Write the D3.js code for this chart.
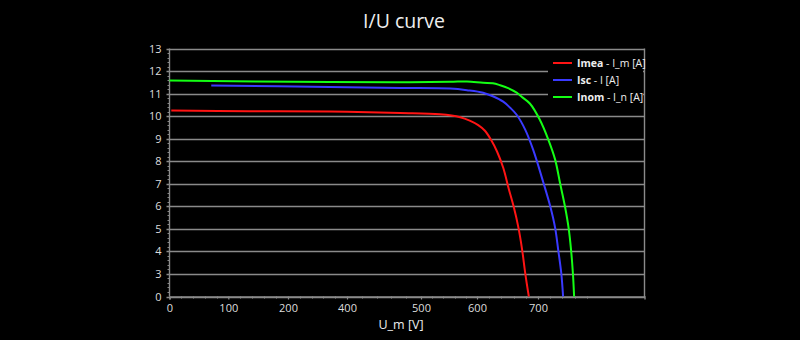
<!DOCTYPE html>
<html>
<head>
<meta charset="utf-8">
<script src="https://cdn.jsdelivr.net/npm/d3@7"></script>
<style>
  html, body { margin: 0; padding: 0; background: #000; }
  svg { display: block; font-family: "Open Sans", "Noto Sans", sans-serif; }
</style>
</head>
<body>
<svg id="chart" width="800" height="340"></svg>
<script>
// Measured I/U characteristics: voltage [V] and current [A]
const imeaU = [3, 136, 342, 472, 534, 570, 587, 602, 613, 623, 633, 643, 652, 660, 668, 674, 679, 684, 685];
const imeaI = [10.25, 10.22, 10.20, 10.14, 10.08, 9.95, 9.80, 9.60, 9.35, 8.95, 8.42, 7.71, 6.78, 6.0, 5.04, 4.07, 3.05, 0.48, 0];

const iscU = [71, 342, 472, 552, 582, 610, 626, 643, 654, 665, 679, 692, 709, 720, 728, 733, 738, 741];
const iscI = [11.36, 11.29, 11.25, 11.22, 11.15, 11.04, 10.88, 10.64, 10.38, 10.06, 9.40, 8.51, 7.03, 6.0, 5.04, 4.07, 3.04, 0];

const inomU = [0, 342, 472, 552, 582, 610, 626, 638, 651, 665, 675, 687, 703, 717, 728, 736, 744, 750, 754, 757, 759];
const inomI = [11.58, 11.51, 11.50, 11.52, 11.54, 11.48, 11.46, 11.37, 11.24, 11.04, 10.82, 10.55, 9.84, 8.95, 8.07, 7.03, 6.0, 5.04, 4.07, 3.04, 0];

const seriesNames = ["Imea", "Isc", "Inom"];
const seriesUnits = [" - I_m [A]", " - I [A]", " - I_n [A]"];
const seriesColors = ["#ff1414", "#3a3aff", "#14ff14"];

// labelled voltages and currents
const xTicks = [0, 100, 200, 400, 500, 600, 700];
const yTicks = [0, 3, 4, 5, 6, 7, 8, 9, 10, 11, 12, 13];

const svg = d3.select("#chart");
const plotL = 169.5, plotR = 644.5, plotT = 48.5, plotB = 296.5;

// voltage axis as laid out by the instrument (uneven label spacing)
const x = d3.scaleLinear()
  .domain([0, 100, 200, 400, 500, 600, 700, 874])
  .range([plotL, 228.3, 288, 347, 421, 477, 538, plotR]);
// lower section of the current axis is compressed (0..3 A takes one division)
const y = d3.scaleLinear().domain([0, 3, 13]).range([plotB, plotB - 22.6, plotT]);

const grid = "#8a8a8a";

// title
svg.append("text")
  .attr("x", 404).attr("y", 28)
  .attr("text-anchor", "middle")
  .attr("fill", "#eeeeee")
  .attr("font-size", 19.5)
  .text("I/U curve");

// horizontal grid lines at the labelled currents
svg.append("g").selectAll("line").data(yTicks).join("line")
  .attr("x1", plotL - 3).attr("x2", plotR)
  .attr("y1", d => Math.round(y(d)) + 0.5).attr("y2", d => Math.round(y(d)) + 0.5)
  .attr("stroke", grid).attr("stroke-width", 1.4);

// minor ticks on the current axis
const yMinor = [];
for (let i = 0; i < yTicks.length - 1; i++) {
  for (let k = 1; k < 5; k++) yMinor.push(yTicks[i] + (yTicks[i + 1] - yTicks[i]) * k / 5);
}
svg.append("g").selectAll("line").data(yMinor).join("line")
  .attr("x1", plotL - 2).attr("x2", plotL)
  .attr("y1", d => Math.round(y(d)) + 0.5).attr("y2", d => Math.round(y(d)) + 0.5)
  .attr("stroke", grid).attr("stroke-width", 1);

// y tick labels
svg.append("g").selectAll("text").data(yTicks).join("text")
  .attr("x", plotL - 8).attr("y", d => y(d) + 4)
  .attr("text-anchor", "end")
  .attr("fill", "#dddddd").attr("font-size", 11)
  .text(d => d);

// x axis (ticks below the line)
const xAxis = d3.axisBottom(x).tickValues(xTicks).tickSize(3).tickPadding(5).tickFormat(d3.format("d"));
const gx = svg.append("g").attr("transform", `translate(0,${plotB})`).call(xAxis);
gx.select(".domain").attr("stroke", grid).attr("stroke-width", 1.4);
gx.selectAll(".tick line").attr("stroke", grid).attr("stroke-width", 1.2);
gx.selectAll(".tick text").attr("fill", "#dddddd").attr("font-size", 11)
  .attr("font-family", "'Open Sans', 'Noto Sans', sans-serif");

// minor ticks: four between each pair of labelled voltages
const xMinor = [];
const xEdges = xTicks.concat([800]);
for (let i = 0; i < xEdges.length - 1; i++) {
  for (let k = 1; k < 5; k++) xMinor.push(xEdges[i] + (xEdges[i + 1] - xEdges[i]) * k / 5);
}
svg.append("g").selectAll("line").data(xMinor).join("line")
  .attr("x1", d => Math.round(x(d)) + 0.5).attr("x2", d => Math.round(x(d)) + 0.5)
  .attr("y1", plotB).attr("y2", plotB + 2)
  .attr("stroke", grid).attr("stroke-width", 1);

// plot frame: left axis and right edge
svg.append("line").attr("x1", plotL).attr("x2", plotL).attr("y1", plotT).attr("y2", plotB)
  .attr("stroke", grid).attr("stroke-width", 1.4);
svg.append("line").attr("x1", plotR).attr("x2", plotR).attr("y1", plotT).attr("y2", plotB + 1)
  .attr("stroke", grid).attr("stroke-width", 1.4);

// x axis title
svg.append("text")
  .attr("x", 401).attr("y", 329)
  .attr("text-anchor", "middle")
  .attr("fill", "#eeeeee").attr("font-size", 12.5)
  .text("U_m [V]");

// y axis title, mostly hidden behind the tick label column
svg.append("clipPath").attr("id", "ytitle-clip")
  .append("rect").attr("x", 143).attr("y", 140).attr("width", 3).attr("height", 60);
svg.append("text")
  .attr("clip-path", "url(#ytitle-clip)")
  .attr("transform", "translate(153,166) rotate(-90)")
  .attr("text-anchor", "middle")
  .attr("fill", "#dddddd").attr("font-size", 13)
  .text("I_m [A]");

// curves
const series = [
  { u: imeaU, i: imeaI },
  { u: iscU, i: iscI },
  { u: inomU, i: inomI }
];
const line = d3.line().x(d => x(d[0])).y(d => y(d[1])).curve(d3.curveCatmullRom.alpha(0.5));
svg.append("g").selectAll("path").data(series).join("path")
  .attr("d", s => line(s.u.map((u, k) => [u, s.i[k]])))
  .attr("fill", "none")
  .attr("stroke", (s, k) => seriesColors[k])
  .attr("stroke-width", 2);

// legend
const lg = svg.append("g");
lg.append("rect").attr("x", 548).attr("y", 53).attr("width", 95).attr("height", 53).attr("fill", "#000");
seriesNames.forEach((name, k) => {
  const yy = 63 + k * 17;
  lg.append("line").attr("x1", 553).attr("x2", 572).attr("y1", yy).attr("y2", yy)
    .attr("stroke", seriesColors[k]).attr("stroke-width", 2);
  const t = lg.append("text").attr("x", 577).attr("y", yy + 4)
    .attr("fill", "#eeeeee").attr("font-size", 10.5);
  t.append("tspan").attr("font-weight", "bold").text(name);
  t.append("tspan").text(seriesUnits[k]);
});
</script>
</body>
</html>
